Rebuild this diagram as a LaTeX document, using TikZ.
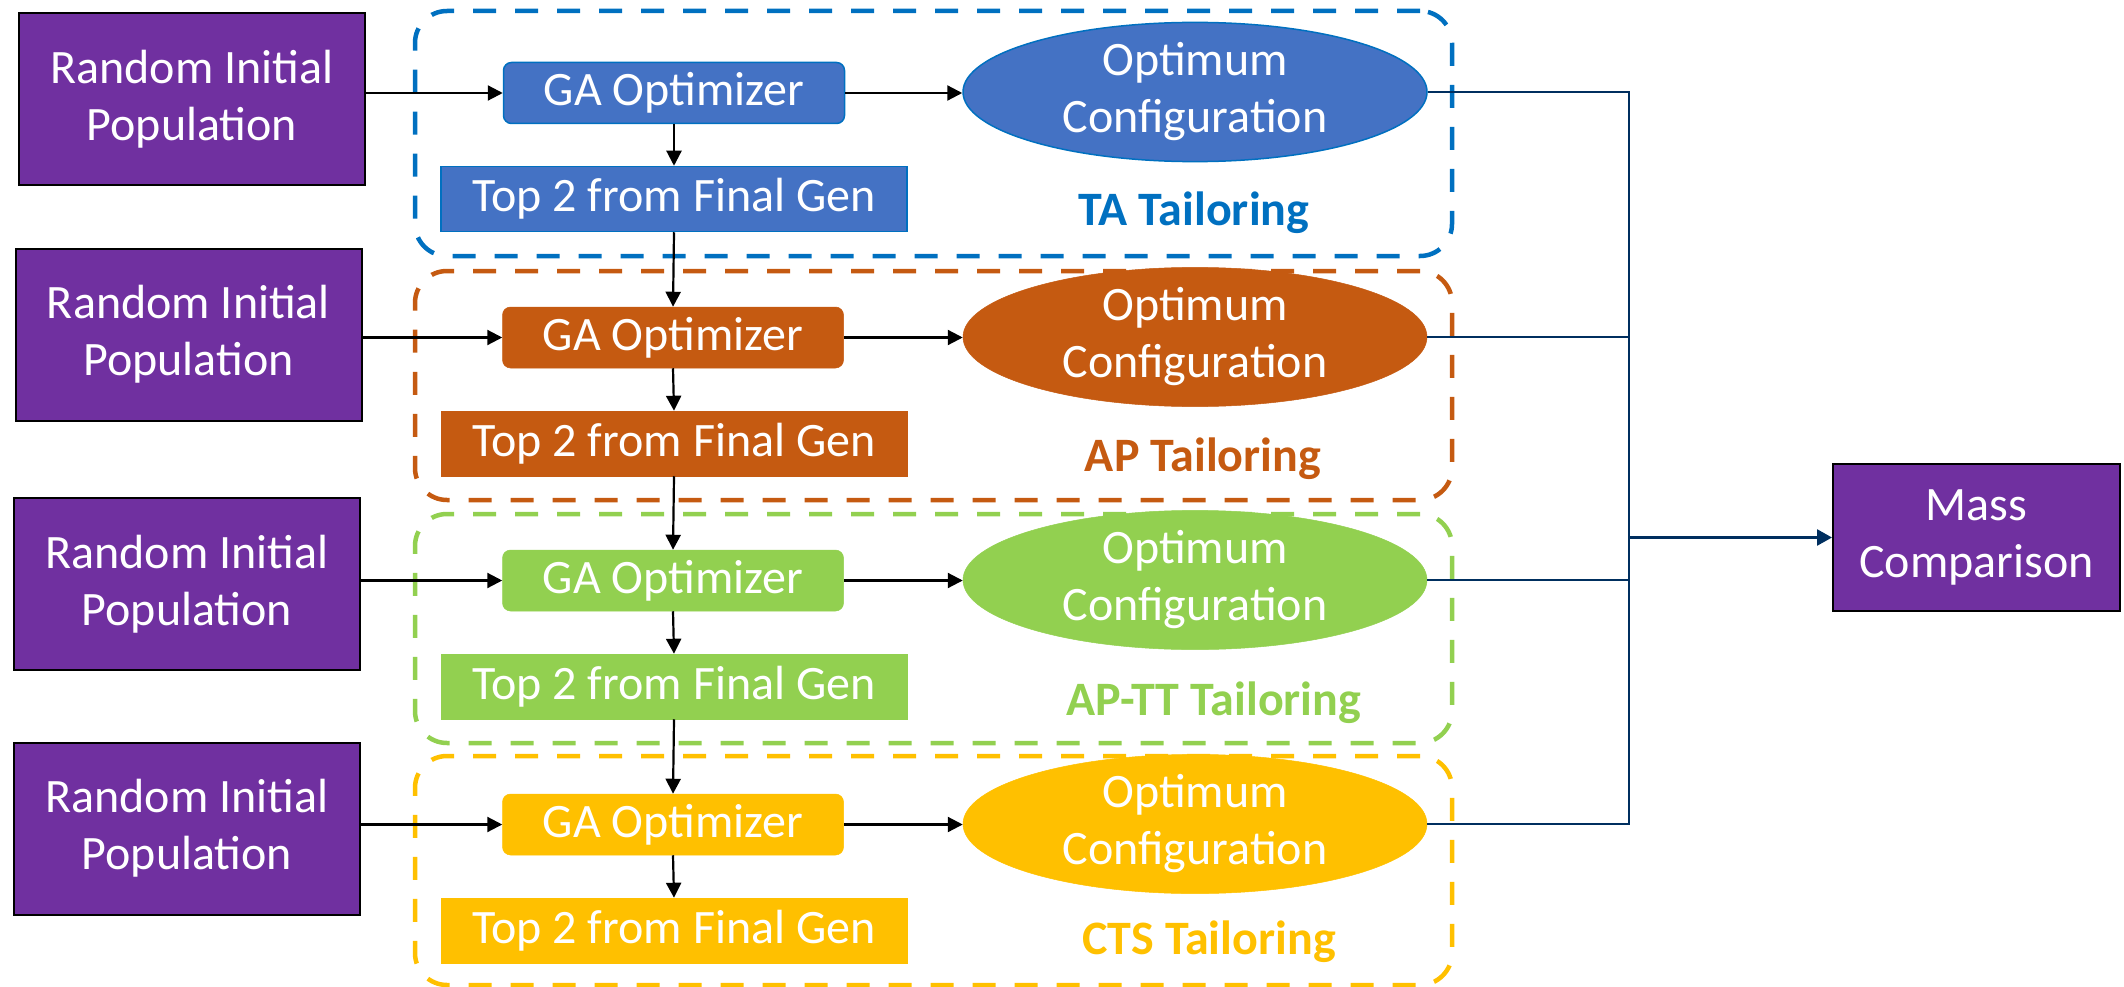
\documentclass[tikz,border=0pt]{standalone}
\usepackage{fontspec}
\setmainfont{Carlito}
\usetikzlibrary{shapes.geometric,arrows.meta}
\definecolor{cpurple}{HTML}{7030A0}
\definecolor{cblue}{HTML}{4472C4}
\definecolor{cblueline}{HTML}{0070C0}
\definecolor{corange}{HTML}{C55A11}
\definecolor{cgreen}{HTML}{92D050}
\definecolor{cyellow}{HTML}{FFC000}
\definecolor{cnavy}{HTML}{002F5F}
\begin{document}
\begin{tikzpicture}[x=1pt,y=-1pt,
 txt/.style={font=\fontsize{48}{57}\selectfont, text=white, align=center, inner sep=0pt},
 randbox/.style={txt, rectangle, fill=cpurple, draw=black, line width=2pt, minimum width=346pt, minimum height=172pt},
 gabox/.style={txt, rectangle, rounded corners=8pt, minimum width=341pt, minimum height=61pt},
 topbox/.style={txt, rectangle, minimum width=466pt, minimum height=65pt},
 optell/.style={txt, ellipse, minimum width=464pt, minimum height=128pt},
 grpbox/.style={rectangle, rounded corners=32pt, line width=4.5pt, dash pattern=on 23pt off 19pt, minimum width=1037pt, inner sep=0pt},
 grplabel/.style={font=\fontsize{48}{57}\selectfont\bfseries, inner sep=0pt},
 flow/.style={line width=2.2pt, -{Triangle[length=15pt,width=15pt]}},
 bus/.style={cnavy, line width=2pt},
 bluefill/.style={fill=cblue, draw=cblueline, line width=1.5pt},
 orfill/.style={fill=corange, draw=corange, line width=0.5pt},
 grfill/.style={fill=cgreen, draw=cgreen, line width=0.5pt},
 yefill/.style={fill=cyellow, draw=cyellow, line width=0.5pt},
]
\useasboundingbox (0,0) rectangle (2124,987);

% group frames
\node[grpbox, draw=cblueline, minimum height=245pt] (fA) at (933.5,133.5) {};
\node[grpbox, draw=corange, minimum height=229pt] (fB) at (933.5,385.5) {};
\node[grpbox, draw=cgreen, minimum height=229pt] (fC) at (933.5,628.5) {};
\node[grpbox, draw=cyellow, minimum height=229pt] (fD) at (933.5,870.5) {};

% random boxes
\node[randbox] (r1) at (192,99) {Random Initial\\Population};
\node[randbox] (r2) at (188.5,334.5) {Random Initial\\Population};
\node[randbox] (r3) at (187,584) {Random Initial\\Population};
\node[randbox] (r4) at (187,828.5) {Random Initial\\Population};

% GA optimizers
\node[gabox, bluefill] (g1) at (674,93) {GA Optimizer};
\node[gabox, orfill] (g2) at (673,337.5) {GA Optimizer};
\node[gabox, grfill] (g3) at (673,580.5) {GA Optimizer};
\node[gabox, yefill] (g4) at (673,824.5) {GA Optimizer};

% Top 2 boxes
\node[topbox, bluefill] (t1) at (674,199) {Top 2 from Final Gen};
\node[topbox, orfill] (t2) at (674,443.5) {Top 2 from Final Gen};
\node[topbox, grfill] (t3) at (674,686.5) {Top 2 from Final Gen};
\node[topbox, yefill] (t4) at (674,930.5) {Top 2 from Final Gen};

% optimum ellipses
\node[optell, bluefill] (e1) at (1195,92) {Optimum\\Configuration};
\node[optell, orfill] (e2) at (1195,337) {Optimum\\Configuration};
\node[optell, grfill] (e3) at (1195,580) {Optimum\\Configuration};
\node[optell, yefill] (e4) at (1195,824) {Optimum\\Configuration};

% labels
\node[grplabel, text=cblueline] (lA) at (1194,213) {TA Tailoring};
\node[grplabel, text=corange] (lB) at (1203,459) {AP Tailoring};
\node[grplabel, text=cgreen] (lC) at (1214,703) {AP-TT Tailoring};
\node[grplabel, text=cyellow] (lD) at (1209,942) {CTS Tailoring};

% mass comparison
\node[randbox, minimum width=287pt, minimum height=147pt] (m) at (1976.5,537.5) {Mass\\Comparison};

% flow arrows
\draw[flow] (r1.east |- g1.west) -- (g1.west);
\draw[flow] (r2.east |- g2.west) -- (g2.west);
\draw[flow] (r3.east |- g3.west) -- (g3.west);
\draw[flow] (r4.east |- g4.west) -- (g4.west);
\draw[flow] (g1.east) -- (e1.west |- g1.east);
\draw[flow] (g2.east) -- (e2.west |- g2.east);
\draw[flow] (g3.east) -- (e3.west |- g3.east);
\draw[flow] (g4.east) -- (e4.west |- g4.east);
\draw[flow] (g1.south) -- (t1.north);
\draw[flow] (g2.south) -- (t2.north);
\draw[flow] (g3.south) -- (t3.north);
\draw[flow] (g4.south) -- (t4.north);
\draw[flow] (t1.south) -- (g2.north);
\draw[flow] (t2.south) -- (g3.north);
\draw[flow] (t3.south) -- (g4.north);

% bus to mass comparison
\coordinate (busx) at (1629,0);
\draw[bus] (e1.east) -- (e1.east -| busx) -- (e4.east -| busx) -- (e4.east);
\draw[bus] (e2.east) -- (e2.east -| busx);
\draw[bus] (e3.east) -- (e3.east -| busx);
\draw[bus, line width=2.6pt, -{Triangle[length=15pt,width=16pt]}] (m.west -| busx) -- (m.west);
\end{tikzpicture}
\end{document}
